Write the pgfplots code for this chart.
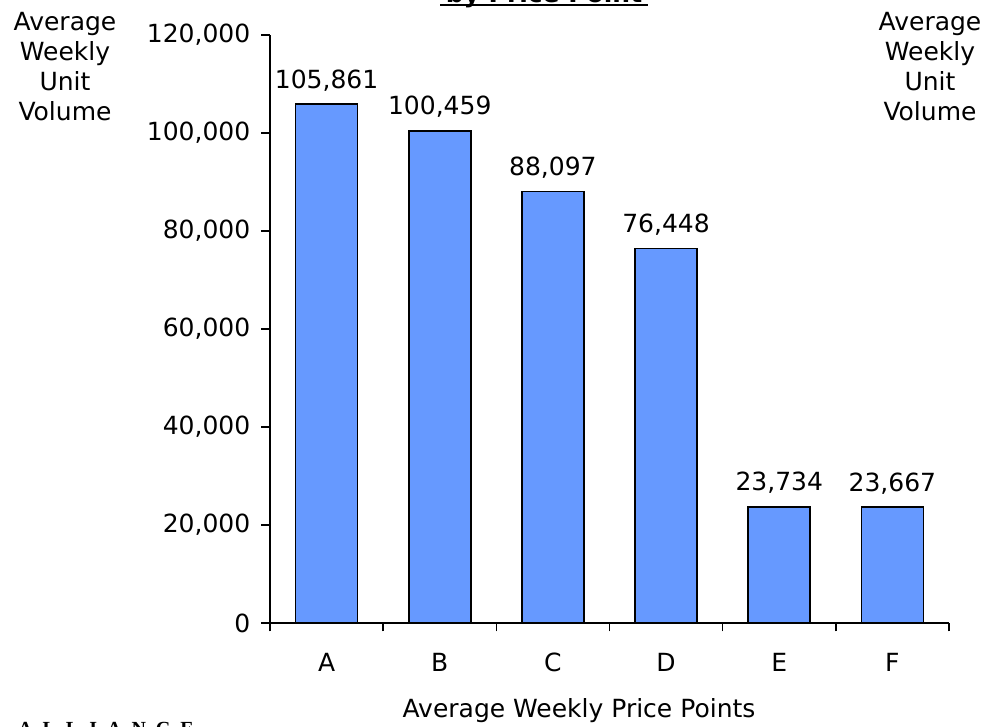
\documentclass[border=0pt]{standalone}
\usepackage{fontspec}
\setmainfont{DejaVu Sans}
\newfontfamily\serifbold{Liberation Serif}
\usepackage{pgfplots}
\pgfplotsset{compat=1.18}
\definecolor{barblue}{HTML}{6699FF}

\begin{document}
\begin{tikzpicture}[x=1pt,y=1pt]
\useasboundingbox (0,0) rectangle (983,726);
\clip (0,0) rectangle (983,726);

\begin{axis}[
    at={(270pt,103pt)},
    anchor=south west,
    scale only axis,
    width=679pt,
    height=588pt,
    ybar,
    bar width=62pt,
    xmin=0.5, xmax=6.5,
    ymin=0, ymax=120000,
    enlargelimits=false,
    axis x line=bottom,
    axis y line=left,
    axis line style={-, line width=1.4pt},
    tick align=outside,
    major tick length=8.5pt,
    major tick style={black, line width=1.4pt},
    xtick={0.5,1.5,...,6.5},
    xticklabels={},
    extra x ticks={1,2,3,4,5,6},
    extra x tick labels={A,B,C,D,E,F},
    extra x tick style={major tick length=0pt,
        xticklabel style={anchor=north, inner sep=0pt, yshift=-30pt}},
    ytick={0,20000,40000,60000,80000,100000,120000},
    scaled y ticks=false,
    /pgf/number format/.cd, fixed, precision=0, 1000 sep={,}, assume math mode=true,
    /pgfplots/.cd,
    tick label style={font=\fontsize{25}{30}\selectfont},
    yticklabel style={anchor=east, inner sep=0pt, xshift=-11pt},
    nodes near coords,
    every node near coord/.append style={font=\fontsize{25}{30}\selectfont,
        text=black, anchor=base, inner sep=0pt, yshift=16pt},
]
\addplot[fill=barblue, draw=black, line width=1.6pt] coordinates {
    (1,105861) (2,100459) (3,88097) (4,76448) (5,23734) (6,23667)};
\end{axis}

\node[anchor=north, align=center, inner sep=0pt, font=\fontsize{25}{30}\selectfont]
    at (65,714) {Average\\Weekly\\Unit\\Volume};
\node[anchor=north, align=center, inner sep=0pt, font=\fontsize{25}{30}\selectfont]
    at (930,714) {Average\\Weekly\\Unit\\Volume};
\node[anchor=base, inner sep=0pt, font=\fontsize{25}{30}\selectfont]
    at (579,9) {Average Weekly Price Points};
\node[anchor=base, inner sep=0pt, font=\fontsize{25}{30}\selectfont\bfseries]
    at (544,723) {by Price Point};
\draw[line width=2pt] (440,720.5) -- (648,720.5);
\node[anchor=base west, inner sep=0pt, font=\fontsize{20}{24}\selectfont\serifbold\bfseries]
    at (18,-9) {A\hskip10pt L\hskip10pt L\hskip10pt I\hskip10pt A\hskip10pt N\hskip10pt C\hskip10pt E};
\end{tikzpicture}
\end{document}
